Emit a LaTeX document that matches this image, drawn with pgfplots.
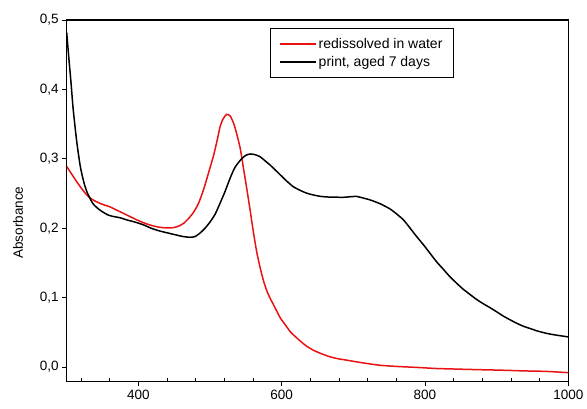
\documentclass[border=0pt]{standalone}
\usepackage{pgfplots}
\pgfplotsset{compat=1.18}
\usepackage{fontspec}
\setmainfont{Liberation Sans}
\definecolor{cred}{RGB}{232,18,18}
\pgfplotstableread{
x y
300 0.482
303 0.445
306 0.410
309 0.372
314 0.325
319 0.289
324 0.266
328 0.253
333 0.242
337 0.235
344 0.228
351 0.223
358 0.219
365 0.217
375 0.215
384 0.212
395 0.209
407 0.205
418 0.200
430 0.196
442 0.193
454 0.190
463 0.188
472 0.187
479 0.188
486 0.193
493 0.200
500 0.209
507 0.220
514 0.236
521 0.253
528 0.272
535 0.288
544 0.300
550 0.305
556 0.307
563 0.306
570 0.303
577 0.297
584 0.291
591 0.284
598 0.277
607 0.268
616 0.260
625 0.255
635 0.2505
644 0.248
654 0.2460
665 0.2450
677 0.2447
688 0.2447
698 0.2456
705 0.2458
714 0.2435
723 0.2410
737 0.2355
751 0.2280
760 0.2210
770 0.2120
779 0.2005
788 0.1885
798 0.1760
807 0.1640
816 0.1520
826 0.1405
835 0.1300
844 0.1210
853 0.1125
863 0.1045
872 0.0975
881 0.0915
891 0.0855
900 0.0797
909 0.0737
919 0.0680
928 0.0632
937 0.0590
947 0.0555
956 0.0523
965 0.0498
975 0.0475
987 0.0455
1000 0.0435
}\printdata
\pgfplotstableread{
x y
300 0.289
307 0.278
314 0.267
321 0.257
328 0.248
335 0.242
342 0.238
351 0.234
360 0.231
370 0.226
379 0.2216
388 0.217
398 0.212
407 0.208
416 0.2048
423 0.2028
430 0.2014
440 0.2005
449 0.2009
456 0.203
463 0.207
470 0.214
477 0.223
484 0.236
491 0.2556
498 0.280
505 0.305
510 0.327
514 0.346
518 0.357
523 0.364
528 0.362
533 0.351
537 0.337
542 0.316
546 0.291
551 0.259
556 0.226
560 0.198
565 0.167
570 0.143
575 0.123
580 0.108
584 0.099
589 0.089
593 0.081
598 0.071
605 0.061
612 0.051
619 0.044
626 0.0375
635 0.030
644 0.0245
655 0.0195
667 0.0150
679 0.0120
691 0.0100
705 0.0075
719 0.0052
737 0.0027
760 0.0010
790 -0.0005
816 -0.0020
850 -0.0030
880 -0.0038
909 -0.0045
940 -0.0055
970 -0.0062
1000 -0.0080
}\waterdata
\begin{document}
\begin{tikzpicture}
\useasboundingbox (-66.7pt,-27.3pt) rectangle (520.3pt,381.7pt);
\begin{axis}[
  at={(0pt,0pt)}, anchor=south west,
  scale only axis,
  width=501.6pt, height=361.7pt,
  xmin=300, xmax=1000,
  ymin=-0.021, ymax=0.5,
  xtick={400,600,800,1000},
  minor xtick={320,360,440,480,520,560,640,680,720,760,840,880,920,960},
  ytick={0,0.1,0.2,0.3,0.4,0.5},
  xtick pos=bottom, ytick pos=left,
  tick align=outside,
  major tick length=4.5pt,
  minor tick length=-3.5pt,
  axis line style={line width=1.1pt},
  every tick/.style={line width=0.9pt, black},
  ticklabel style={font=\fontsize{13.5}{15}\selectfont},
  /pgf/number format/assume math mode=true,
  yticklabel style={/pgf/number format/.cd, fixed, fixed zerofill, precision=1, use comma},
  xticklabel style={/pgf/number format/.cd, fixed, precision=0, 1000 sep={}},
  ylabel={Absorbance},
  ylabel style={font=\fontsize{13.5}{15}\selectfont, at={(axis description cs:-0.097,0.44)}, anchor=center},
  legend style={at={(axis description cs:0.405,0.978)}, anchor=north west, draw=black, line width=0.8pt,
    font=\fontsize{14}{16}\selectfont, inner xsep=9pt, inner ysep=8pt,
    row sep=2pt},
  legend cell align=left,
  legend image code/.code={\draw[#1] (0pt,0pt) -- (32pt,0pt); \path (0pt,0pt) -- (36pt,0pt);},
]
\addplot[cred, line width=1.5pt, smooth, tension=0.4] table[x=x,y=y] {\waterdata};
\addlegendentry{redissolved in water}
\addplot[black, line width=1.5pt, smooth, tension=0.4] table[x=x,y=y] {\printdata};
\addlegendentry{print, aged 7 days}
\end{axis}
\end{tikzpicture}
\end{document}
